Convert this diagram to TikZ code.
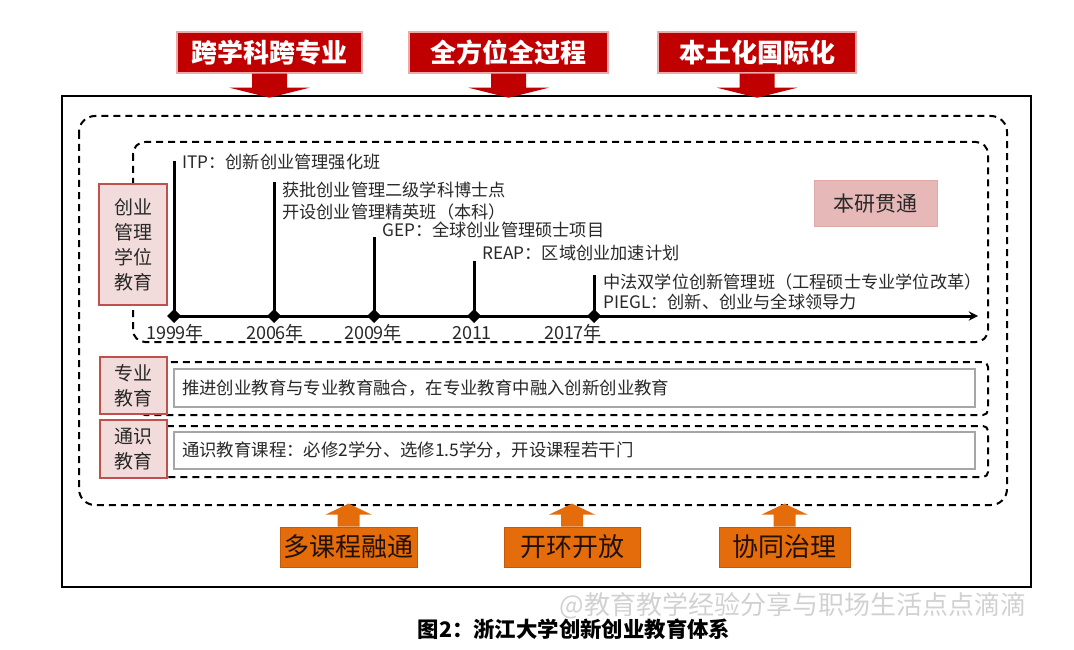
\documentclass[tikz,border=0pt]{standalone}
\usepackage{fontspec}
\setmainfont{Noto Sans CJK SC}
\usepackage{tikz}
\usetikzlibrary{positioning}
\definecolor{boxred}{RGB}{192,0,0}
\definecolor{glowred}{RGB}{236,170,170}
\definecolor{boxorange}{RGB}{228,108,10}
\definecolor{lblpink}{RGB}{242,220,219}
\definecolor{lbledge}{RGB}{192,80,77}
\definecolor{bypink}{RGB}{230,185,184}
\definecolor{txtgray}{RGB}{40,40,40}
\tikzset{
  redlbl/.style={fill=boxred,draw=glowred,line width=1.5,text=white,inner sep=0,
    font=\fontsize{26}{26}\selectfont\bfseries},
  orglbl/.style={fill=boxorange,draw=boxorange!85!black,line width=.8,text=black!85!boxorange,
    inner sep=0,font=\fontsize{26}{26}\selectfont},
  sidelbl/.style={fill=lblpink,draw=lbledge,line width=1.5,text=txtgray,align=center,
    inner sep=0,font=\fontsize{19}{25}\selectfont},
  dashbox/.style={line width=2,dash pattern=on 7pt off 5pt},
  itembox/.style={fill=white,draw=gray!70,line width=1.2,align=left,inner sep=8,
    text=txtgray,font=\fontsize{17.4}{20}\selectfont},
  evt/.style={anchor=west,align=left,inner sep=0,text=txtgray,font=\fontsize{17.2}{22}\selectfont}
}
\begin{document}
\begin{tikzpicture}[x=1pt,y=-1pt]
\useasboundingbox(0,0)rectangle(1074,650);
\draw[line width=1.8](62,96)rectangle(1031,587);
\draw[dashbox,rounded corners=16](79,116)rectangle(1007,505);
\draw[dashbox,rounded corners=12](133,142)rectangle(988,342);
\draw[dashbox,rounded corners=5](140,362)rectangle(988,415)(140,426)rectangle(988,477);
% oben
\node[redlbl,minimum width=185,minimum height=41](kx)at(269.5,52.5){跨学科跨专业};
\node[redlbl,minimum width=199,minimum height=41](qf)at(508.5,52.5){全方位全过程};
\node[redlbl,minimum width=198,minimum height=41](bt)at(757,52.5){本土化国际化};
\foreach \n in {kx,qf,bt}\fill[boxred]([xshift=-17.5]\n.south)--++(0,14)--++(-22.5,0)--++(40,10)--++(40,-10)--++(-22.5,0)--++(0,-14)--cycle;
% unten
\node[orglbl,minimum width=137,minimum height=40](dk)at(348.5,547){多课程融通};
\node[orglbl,minimum width=136,minimum height=40](kh)at(572,547){开环开放};
\node[orglbl,minimum width=131,minimum height=40](xt)at(784.5,547){协同治理};
\foreach \n in {dk,kh,xt}\fill[boxorange]([xshift=-11]\n.north)--++(0,-12)--++(-12,0)--++(23,-11)--++(23,11)--++(-12,0)--++(0,12)--cycle;
% links
\node[sidelbl,minimum width=68,minimum height=121](cy)at(133,244.5){创业\\管理\\学位\\教育};
\node[sidelbl,minimum width=67,minimum height=57](zy)at(133.5,385.5){专业\\教育};
\node[sidelbl,minimum width=67,minimum height=58](ts)at(133.5,449){通识\\教育};
\node[itembox,text width=785,minimum height=38](zyt)at(574.5,388){推进创业教育与专业教育融合，在专业教育中融入创新创业教育};
\node[itembox,text width=785,minimum height=37](tst)at(574.5,450.5){通识教育课程：必修2学分、选修1.5学分，开设课程若干门};
\node[fill=bypink,draw=bypink!85!lbledge,line width=1,minimum width=123,minimum height=45,inner sep=0,
  text=txtgray,font=\fontsize{21}{21}\selectfont](by)at(875.5,203.5){本研贯通};
% Zeitachse
\coordinate(t0)at(174,316);\coordinate(tend)at(978,316);
\draw[line width=3,-stealth](t0)--(tend);
\foreach \i/\x/\h/\lx/\yr in {1/174/161/175/1999年,2/274/182/275/2006年,3/374/237/373/2009年,4/474/261/472/2011,5/594/275/573/2017年}{
  \coordinate(p\i)at(\x,316);
  \draw[line width=3](p\i)--(\x,\h);
  \fill(p\i)++(0,-7)--++(7,7)--++(-7,7)--++(-7,-7)--cycle;
  \node[font=\fontsize{18}{18}\selectfont,text=txtgray](yr\i)at(\lx,333){\yr};
}
\node[evt](itp)at(182,162){ITP：创新创业管理强化班};
\node[evt](bs)at(282,201){获批创业管理二级学科博士点\\开设创业管理精英班（本科）};
\node[evt](gep)at(382,230){GEP：全球创业管理硕士项目};
\node[evt](reap)at(482,253){REAP：区域创业加速计划};
\node[evt,font=\fontsize{17.2}{20}\selectfont](zf)at(603,292){中法双学位创新管理班（工程硕士专业学位改革）\\PIEGL：创新、创业与全球领导力};
\node[font=\fontsize{21.4}{22}\selectfont\bfseries](cap)at(574,629){图2：浙江大学创新创业教育体系};
\node[anchor=west,text=gray!45,opacity=.8,font=\fontsize{26}{26}\selectfont](wm)at(556,606){@教育教学经验分享与职场生活点点滴滴};
\end{tikzpicture}
\end{document}
